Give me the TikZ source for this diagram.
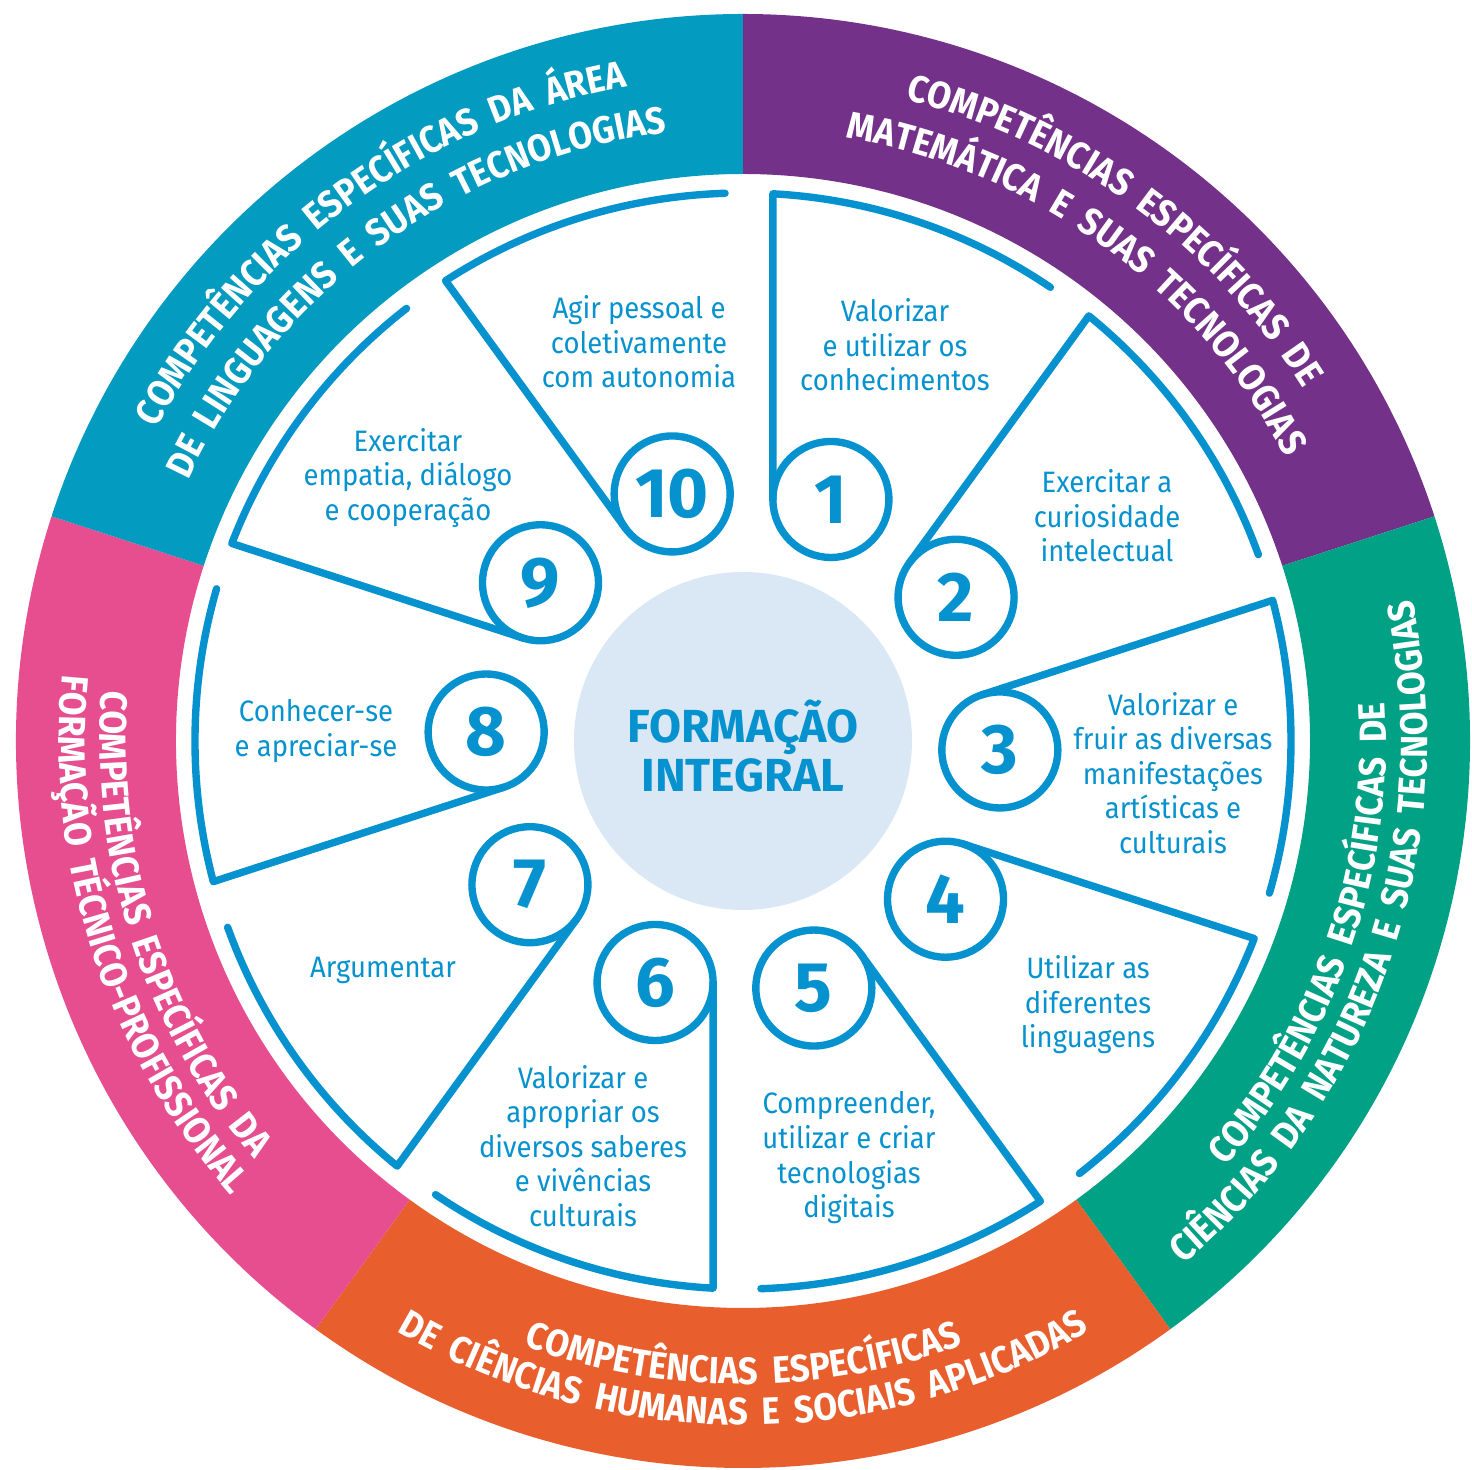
\documentclass[tikz,border=0pt]{standalone}
\usepackage{fontspec}
\setmainfont{Fira Sans}
\newfontfamily\petalfam{Fira Sans}[FakeStretch=0.93]
\newfontfamily\ringfam{Fira Sans}[FakeStretch=0.91, WordSpace=1.8]
\usetikzlibrary{calc,decorations.text}

\definecolor{petalblue}{RGB}{6,146,206}
\definecolor{coreblue}{RGB}{218,232,245}
\definecolor{lingblue}{RGB}{3,155,192}
\definecolor{matpurple}{RGB}{116,49,138}
\definecolor{natgreen}{RGB}{0,161,132}
\definecolor{humorange}{RGB}{232,94,45}
\definecolor{tecpink}{RGB}{231,78,143}

\newcommand{\ringfont}{\color{white}\ringfam\bfseries\fontsize{10.8}{12}\selectfont}

\tikzset{
  numring/.style={circle, draw=petalblue, line width=2.1pt, minimum size=1.16cm, inner sep=0pt,
    text=petalblue, font=\bfseries\fontsize{20}{20}\selectfont},
  petalline/.style={draw=petalblue, line width=2.1pt, line cap=round, line join=round},
  petaltext/.style={align=center, text=petalblue, font=\petalfam\fontsize{8.4}{9.85}\selectfont},
  ringtext/.style={decorate, decoration={text along path, text align=center, text={|\ringfont|#1}}}
}

\begin{document}
\begin{tikzpicture}
  \useasboundingbox (-7.43,-7.29) rectangle (7.29,7.41);
  \fill[white] (-7.43,-7.29) rectangle (7.29,7.41);

  % outer ring
  \foreach \start/\col in {90/matpurple, 18/natgreen, -54/humorange, -126/tecpink, 162/lingblue}
    \fill[\col] (\start:7.27) arc[start angle=\start, delta angle=-72, radius=7.27]
      -- (\start-72:5.67) arc[start angle=\start-72, delta angle=72, radius=5.67] -- cycle;

  % ring labels, upper half read clockwise
  \path[ringtext={COMPETÊNCIAS ESPECÍFICAS DA ÁREA}] (171:6.64) arc[start angle=171, end angle=81, radius=6.64];
  \path[ringtext={DE LINGUAGENS E SUAS TECNOLOGIAS}] (171:6.13) arc[start angle=171, end angle=81, radius=6.13];
  \path[ringtext={COMPETÊNCIAS ESPECÍFICAS DE}] (99:6.62) arc[start angle=99, end angle=9, radius=6.62];
  \path[ringtext={MATEMÁTICA E SUAS TECNOLOGIAS}] (99:6.12) arc[start angle=99, end angle=9, radius=6.12];
  % lower half read counterclockwise
  \path[ringtext={COMPETÊNCIAS ESPECÍFICAS DE}] (-64:6.43) arc[start angle=-64, end angle=26, radius=6.43];
  \path[ringtext={CIÊNCIAS DA NATUREZA E SUAS TECNOLOGIAS}] (-64:6.84) arc[start angle=-64, end angle=26, radius=6.84];
  \path[ringtext={COMPETÊNCIAS ESPECÍFICAS}] (-135:6.43) arc[start angle=-135, end angle=-45, radius=6.43];
  \path[ringtext={DE CIÊNCIAS HUMANAS E SOCIAIS APLICADAS}] (-135:6.84) arc[start angle=-135, end angle=-45, radius=6.84];
  \path[ringtext={COMPETÊNCIAS ESPECÍFICAS DA}] (153:6.43) arc[start angle=153, end angle=243, radius=6.43];
  \path[ringtext={FORMAÇÃO TÉCNICO-PROFISSIONAL}] (153:6.84) arc[start angle=153, end angle=243, radius=6.84];

  % centre
  \node[circle, fill=coreblue, minimum size=3.38cm, inner sep=0pt] (core) at (0,0) {};
  \node[align=center, text=petalblue, font=\bfseries\fontsize{13.2}{12.8}\selectfont]
    (corelabel) at (0,-0.05) {FORMAÇÃO\\INTEGRAL};

  % numbered petals
  \foreach \k in {1,...,10}{
    \pgfmathsetmacro{\ang}{106-36*\k}
    \pgfmathsetmacro{\dir}{\ang+20}
    \node[numring] (n\k) at (\ang:2.57) {\k};
    \coordinate (t\k) at ($(n\k.center)+(\dir+90:0.58)$);
    \coordinate (e\k) at ($(t\k)+(\dir:3.057)$);
    \draw[petalline] (t\k) -- (e\k) arc[start angle=\dir-3.13, delta angle=-31, radius=5.48];
  }

  \node[petaltext] (p1) at (1.52,3.96) {Valorizar\\e utilizar os\\conhecimentos};
  \node[petaltext] (p2) at (3.64,2.25) {Exercitar a\\curiosidade\\intelectual};
  \node[petaltext] (p3) at (4.30,-0.32) {Valorizar e\\fruir as diversas\\manifestações\\artísticas e\\culturais};
  \node[petaltext] (p4) at (3.45,-2.64) {Utilizar as\\diferentes\\linguagens};
  \node[petaltext] (p5) at (1.06,-4.17) {Compreender,\\utilizar e criar\\tecnologias\\digitais};
  \node[petaltext] (p6) at (-1.60,-4.05) {Valorizar e\\apropriar os\\diversos saberes\\e vivências\\culturais};
  \node[petaltext] (p7) at (-3.60,-2.29) {Argumentar};
  \node[petaltext] (p8) at (-4.27,0.10) {Conhecer-se\\e apreciar-se};
  \node[petaltext] (p9) at (-3.35,2.63) {Exercitar\\empatia, diálogo\\e cooperação};
  \node[petaltext] (p10) at (-1.04,3.99) {Agir pessoal e\\coletivamente\\com autonomia};
\end{tikzpicture}
\end{document}
